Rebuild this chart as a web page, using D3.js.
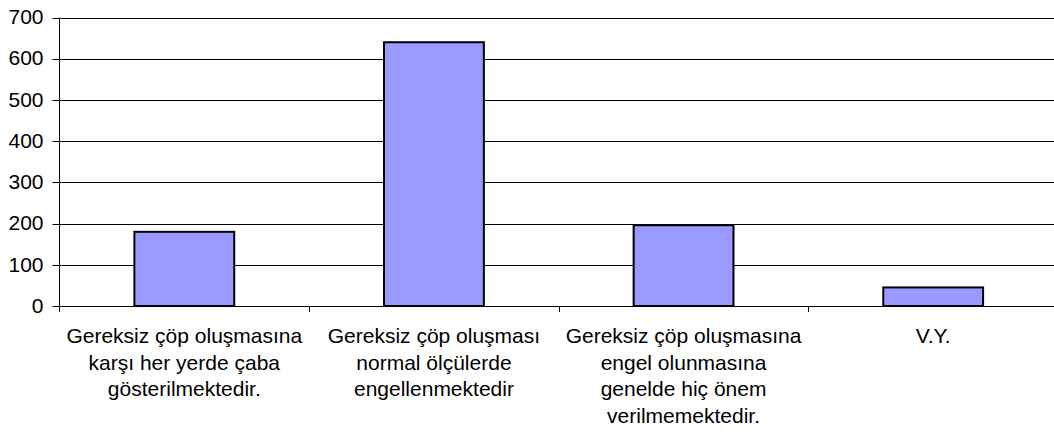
<!doctype html>
<html lang="tr">
<head>
<meta charset="utf-8">
<script src="https://d3js.org/d3.v7.min.js"></script>
<style>
  body { margin: 0; background: #fff; }
  text { font-family: "Liberation Sans", Arial, sans-serif; fill: #000; }
</style>
</head>
<body>
<svg width="1054" height="433"></svg>
<script>
// categories, one entry per line of the wrapped label
var categories = [
  ["Gereksiz çöp oluşmasına", "karşı her yerde çaba", "gösterilmektedir."],
  ["Gereksiz çöp oluşması", "normal ölçülerde", "engellenmektedir"],
  ["Gereksiz çöp oluşmasına", "engel olunmasına", "genelde hiç önem", "verilmemektedir."],
  ["V.Y."]
];
var values = [180, 640, 196, 45];
var yTicks = [0, 100, 200, 300, 400, 500, 600, 700];

var svg = d3.select("svg");
var plotLeft = 59.5, plotTop = 17.5, plotRight = 1058, plotBottom = 306;

var x = d3.scaleBand()
    .domain(d3.range(categories.length))
    .range([plotLeft, plotRight])
    .paddingInner(0.6)
    .paddingOuter(0.3);
var bands = d3.scaleBand()
    .domain(d3.range(categories.length))
    .range([plotLeft, plotRight]);
var y = d3.scaleLinear()
    .domain([0, 700])
    .range([plotBottom, plotTop]);

function crisp(v) { return Math.round(v) + 0.5; }

// gridlines
svg.append("g")
    .selectAll("line")
    .data(yTicks)
    .enter().append("line")
    .attr("x1", plotLeft)
    .attr("x2", plotRight)
    .attr("y1", function(d) { return crisp(y(d)); })
    .attr("y2", function(d) { return crisp(y(d)); })
    .attr("stroke", "#000")
    .attr("stroke-width", 1);

// y axis
var yAxis = svg.append("g")
    .attr("transform", "translate(" + plotLeft + ",0)")
    .call(d3.axisLeft(y).tickValues(yTicks).tickSize(7).tickPadding(9)
        .offset(0).tickSizeOuter(0));
yAxis.selectAll(".tick line").attr("stroke", "#000")
    .attr("transform", function(d) { return "translate(0," + (crisp(y(d)) - y(d)) + ")"; });
yAxis.select(".domain").attr("stroke", "#000").attr("d", "M0," + plotTop + "V" + (plotBottom + 6));
yAxis.selectAll("text")
    .attr("font-family", null)
    .attr("font-size", null)
    .style("font-size", "21px");

// category boundary ticks below the axis
svg.append("g")
    .selectAll("line")
    .data(d3.range(1, categories.length))
    .enter().append("line")
    .attr("x1", function(d) { return crisp(bands(d)); })
    .attr("x2", function(d) { return crisp(bands(d)); })
    .attr("y1", crisp(plotBottom))
    .attr("y2", plotBottom + 6)
    .attr("stroke", "#000");

// bars
svg.append("g")
    .selectAll("rect")
    .data(values)
    .enter().append("rect")
    .attr("x", function(d, i) { return x(i); })
    .attr("width", x.bandwidth())
    .attr("y", function(d) { return y(d); })
    .attr("height", function(d) { return y(0) - y(d); })
    .attr("fill", "#9999ff")
    .attr("stroke", "#000")
    .attr("stroke-width", 2);

// category labels
var labels = svg.append("g")
    .selectAll("text")
    .data(categories)
    .enter().append("text")
    .attr("text-anchor", "middle")
    .style("font-size", "21px")
    .attr("x", function(d, i) { return bands(i) + bands.bandwidth() / 2; })
    .attr("y", 343);
labels.selectAll("tspan")
    .data(function(d) { return d; })
    .enter().append("tspan")
    .attr("x", function() { return d3.select(this.parentNode).attr("x"); })
    .attr("dy", function(d, i) { return i === 0 ? 0 : 26.7; })
    .text(function(d) { return d; });
</script>
</body>
</html>
